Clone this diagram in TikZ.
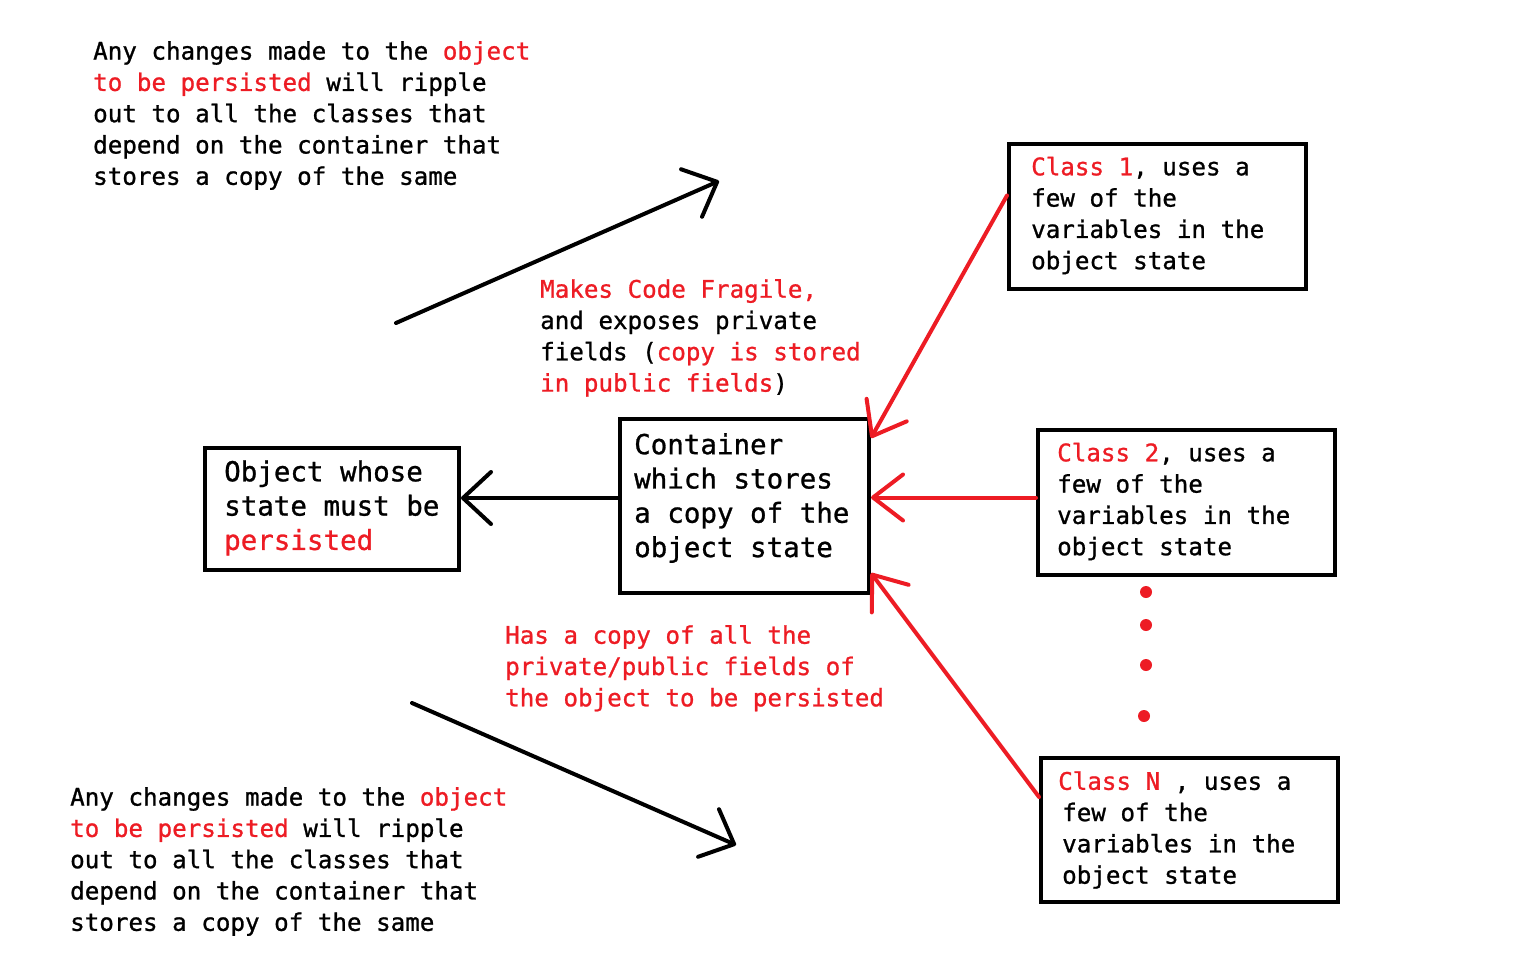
\documentclass[tikz,border=0pt]{standalone}
\usepackage{fontspec}
\setmonofont[FakeBold=1]{DejaVu Sans Mono}
\usetikzlibrary{arrows.meta}
\definecolor{paintred}{RGB}{237,28,36}
\newcommand{\rd}[1]{\textcolor{paintred}{#1}}

\begin{document}
\begin{tikzpicture}
		[x=1pt,y=-1pt,
		note/.style={font=\fontsize{24.2}{31.3}\selectfont\ttfamily,
			align=left, inner sep=0pt, anchor=north west},
		bignote/.style={note, font=\fontsize{27.5}{34.3}\selectfont\ttfamily, anchor=west},
		boxnote/.style={note, anchor=west},
		box/.style={draw, line width=4pt, inner sep=0pt},
		classbox/.style={box, minimum width=297pt, minimum height=145pt},
		blackarrow/.style={line width=4pt, line cap=round,
			-{Straight Barb[length=28pt,width=52pt,round]}},
		redarrow/.style={blackarrow, draw=paintred,
			-{Straight Barb[length=30pt,width=46pt,round]}}]
		\useasboundingbox (0,0) rectangle (1519,959);
		% boxes
		\node[box, minimum width=254pt, minimum height=122pt] (obj) at (332,509) {};
		\node[box, minimum width=249pt, minimum height=174pt] (cont) at (744.5,506) {};
		\node[classbox] (c1) at (1157.5,216.5) {};
		\node[classbox] (c2) at (1186.5,502.5) {};
		\node[classbox, minimum height=144pt] (cN) at (1189.5,830) {};
		% box texts
		\node[bignote] (objtext) at ([xshift=21pt,yshift=1pt]obj.west)
			{Object whose\\state must be\\\rd{persisted}};
		\node[bignote] (conttext) at ([xshift=16pt,yshift=8pt]cont.west)
			{Container\\which stores\\a copy of the\\object state};
		\node[boxnote] (c1text) at ([xshift=24pt,yshift=1pt]c1.west)
			{\rd{Class 1}, uses a\\few of the\\variables in the\\object state};
		\node[boxnote] (c2text) at ([xshift=21pt,yshift=1pt]c2.west)
			{\rd{Class 2}, uses a\\few of the\\variables in the\\object state};
		\node[boxnote] (cNtext) at ([xshift=19pt]cN.west)
			{\rd{Class N} , uses a\\\hspace*{4pt}few of the\\\hspace*{4pt}variables in the\\
			\hspace*{4pt}object state};
		% notes
		\node[note] (topnote) at (93,41)
			{Any changes made to the \rd{object}\\\rd{to be persisted} will ripple\\
			out to all the classes that\\depend on the container that\\stores a copy of the same};
		\node[note] (botnote) at (70,787)
			{Any changes made to the \rd{object}\\\rd{to be persisted} will ripple\\
			out to all the classes that\\depend on the container that\\stores a copy of the same};
		\node[note] (fragile) at (540,279)
			{\rd{Makes Code Fragile,}\\and exposes private\\fields (\rd{copy is stored}\\
			\rd{in public fields})};
		\node[note, text=paintred] (hascopy) at (505,625)
			{Has a copy of all the\\private/public fields of\\the object to be persisted};
		% ripple arrows
		\coordinate (up1) at (396,323);
		\coordinate (up2) at (719,181);
		\coordinate (dn1) at (412,703);
		\coordinate (dn2) at (736,845);
		\draw[blackarrow] (up1) -- (up2);
		\draw[blackarrow] (dn1) -- (dn2);
		% connectors
		\draw[blackarrow] ([yshift=8pt]cont.west) -- ([yshift=8pt]cont.west -| obj.east);
		\draw[redarrow] ([yshift=21pt]c1.west) -- ([yshift=-21pt]cont.north east);
		\draw[redarrow] ([yshift=5pt]c2.west) -- ([yshift=5pt]c2.west -| cont.east);
		\draw[redarrow] ([yshift=33pt]cN.west) -- ([yshift=22pt]cont.south east);
		% more classes
		\foreach \x/\y in {1146/592, 1146/625, 1146/665, 1144/716}
			\fill[paintred] (\x,\y) circle (6pt);
	\end{tikzpicture}
\end{document}
